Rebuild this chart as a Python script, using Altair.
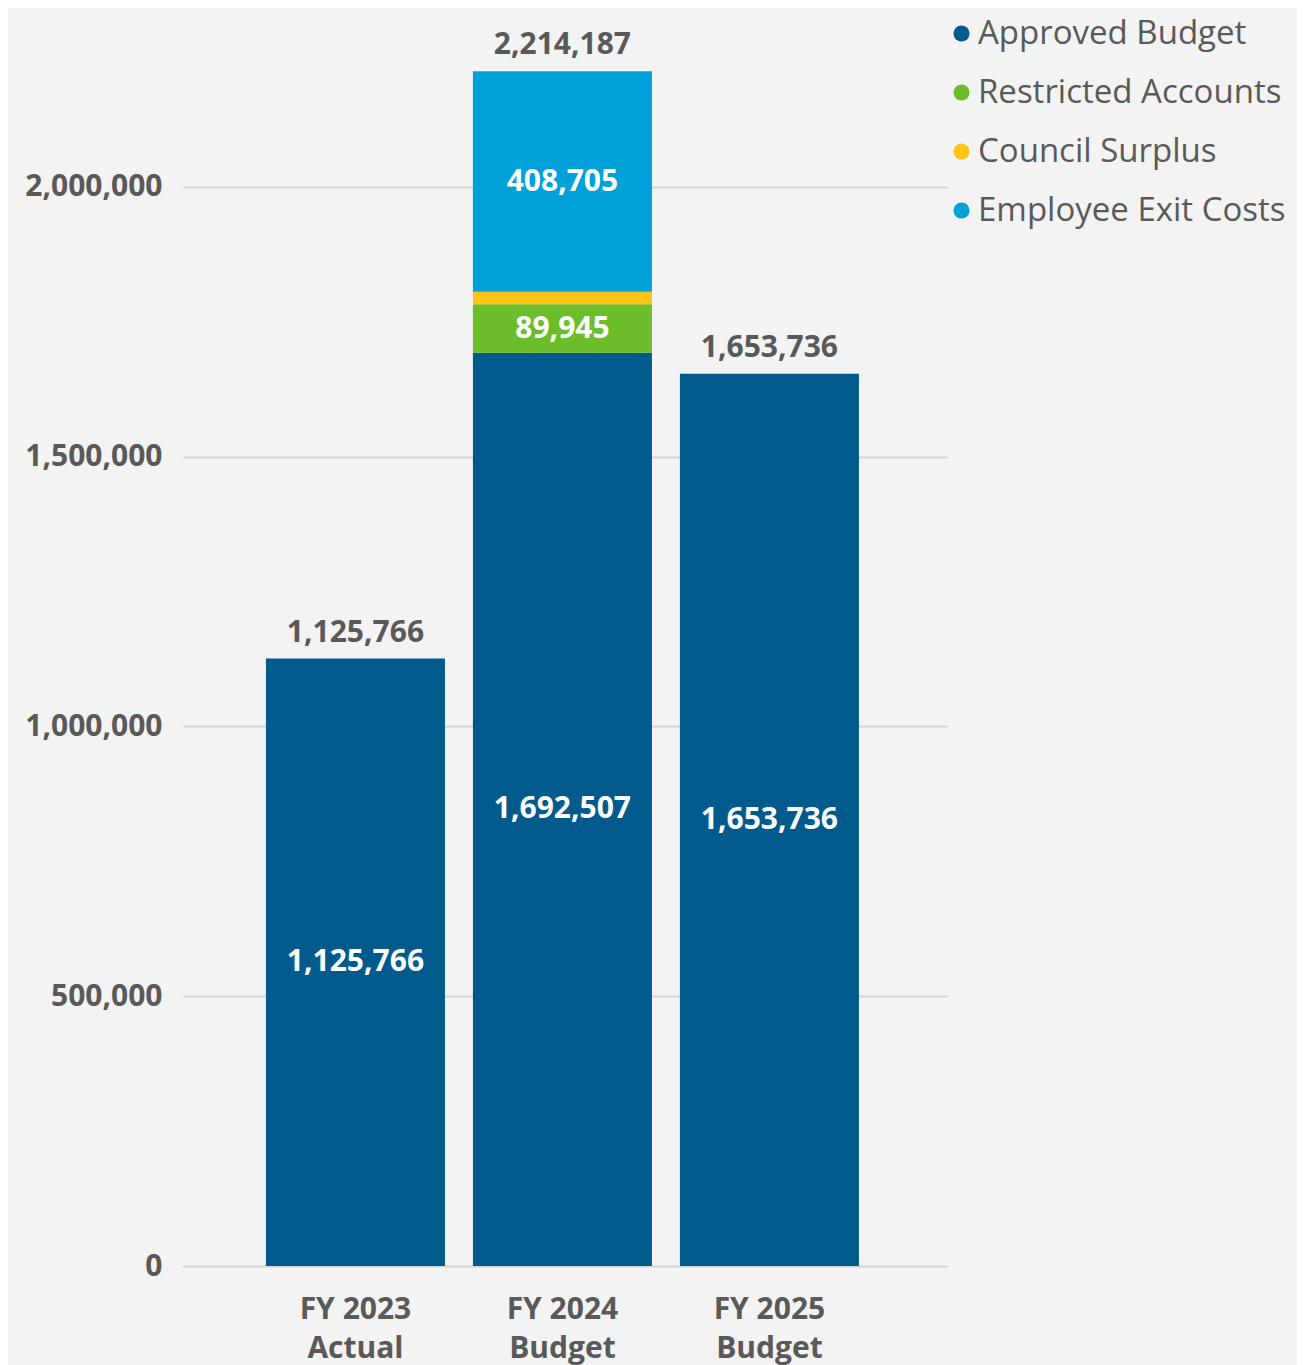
import altair as alt
import pandas as pd

categories = ["FY 2023 Actual", "FY 2024 Budget", "FY 2025 Budget"]
series = ["Approved Budget", "Restricted Accounts", "Council Surplus", "Employee Exit Costs"]
colors = ["#005a8c", "#6cbd2a", "#ffc516", "#00a0d8"]
approved = [1125766, 1692507, 1653736]
restricted = [0, 89945, 0]
surplus = [0, 23030, 0]
exit_costs = [0, 408705, 0]

rows = []
for i, c in enumerate(categories):
    for j, (s, vals) in enumerate(zip(series, [approved, restricted, surplus, exit_costs])):
        if vals[i] > 0:
            rows.append({"cat": c, "series": s, "value": vals[i], "ord": j})
df = pd.DataFrame(rows)

FONT = "Open Sans"
GRAY = "#595959"
FS = 30

base = alt.Chart(df)

x = alt.X("cat:N", sort=categories, title=None,
          scale=alt.Scale(paddingInner=0.135, paddingOuter=0.413, align=0.485),
          axis=alt.Axis(labelAngle=0, domain=False, ticks=False, labelPadding=28,
                        labelFont=FONT, labelFontSize=FS, labelFontWeight="bold",
                        labelColor=GRAY, labelLineHeight=39,
                        labelExpr="[substring(datum.label, 0, 7), substring(datum.label, 8)]"))
yscale = alt.Scale(domain=[0, 2300000], nice=False)

bars = base.mark_bar().encode(
    x=x,
    y=alt.Y("value:Q", stack="zero", scale=yscale, title=None,
            axis=alt.Axis(values=[0, 500000, 1000000, 1500000, 2000000], format=",d",
                          domain=False, ticks=False, labelPadding=21,
                          labelFont=FONT, labelFontSize=FS, labelFontWeight="bold",
                          labelColor=GRAY, gridColor="#d4d4d4", gridWidth=2)),
    color=alt.Color("series:N", sort=series,
                    scale=alt.Scale(domain=series, range=colors),
                    legend=alt.Legend(title=None, orient="none", legendX=762, legendY=-8,
                                      padding=0, symbolType="circle", symbolSize=260,
                                      symbolStrokeWidth=0, labelFont=FONT, labelFontSize=33,
                                      labelColor=GRAY, labelOffset=0, rowPadding=25,
                                      labelLimit=400)),
    order=alt.Order("ord:Q"),
)

inner = base.transform_stack(
    stack="value", groupby=["cat"], as_=["y0", "y1"], sort=[alt.SortField("ord")]
).transform_calculate(
    mid="(datum.y0 + datum.y1) / 2"
).transform_filter("datum.value > 50000").mark_text(
    font=FONT, fontSize=FS, fontWeight="bold", color="white", baseline="middle"
).encode(
    x=alt.X("cat:N", sort=categories),
    y=alt.Y("mid:Q", scale=yscale),
    text=alt.Text("value:Q", format=",d"),
)

totals = base.transform_aggregate(
    total="sum(value)", groupby=["cat"]
).mark_text(
    font=FONT, fontSize=FS, fontWeight="bold", color=GRAY, baseline="middle", dy=-26
).encode(
    x=alt.X("cat:N", sort=categories),
    y=alt.Y("total:Q", scale=yscale),
    text=alt.Text("total:Q", format=",d"),
)

chart = alt.layer(bars, inner, totals).properties(
    width=764, height=1241,
    autosize=alt.AutoSizeParams(type="none"),
    padding={"left": 175, "top": 17, "right": 350, "bottom": 99},
    background="#f3f3f3",
).configure_view(stroke=None)

chart.save("out.html", embed_options={"renderer": "svg", "actions": False})
